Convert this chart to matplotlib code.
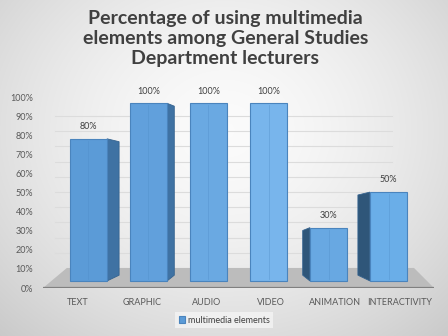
import numpy as np
import matplotlib
matplotlib.use('Agg')
import matplotlib.pyplot as plt
from matplotlib.patches import Polygon

plt.rcParams['font.family'] = ['Lato', 'DejaVu Sans']

categories = ['TEXT', 'GRAPHIC', 'AUDIO', 'VIDEO', 'ANIMATION', 'INTERACTIVITY']
values = [80, 100, 100, 100, 30, 50]
tick_values = [0, 10, 20, 30, 40, 50, 60, 70, 80, 90, 100]
series_name = 'multimedia elements'
title = 'Percentage of using multimedia\nelements among General Studies\nDepartment lecturers'

# fake 3d look (excel style perspective)
floor_base = 0.037
depth_scale = 0.93
bar_w = 0.62

fig = plt.figure(figsize=(4.48, 3.36), dpi=100)

# background gradient
bg = fig.add_axes([0, 0, 1, 1], zorder=-10)
yy, xx = np.mgrid[0:336, 0:448]
r = np.sqrt(((xx - 224) / 300.0) ** 2 + ((yy - 130) / 260.0) ** 2)
shade = np.clip(0.985 - 0.17 * r ** 1.6, 0.78, 1.0)
bg.imshow(np.dstack([shade, shade, shade]), aspect='auto', extent=[0, 1, 0, 1])
bg.axis('off')

ax = fig.add_axes([43 / 448, 48 / 336, 391 / 448, 191 / 336])
ax.patch.set_alpha(0)
ax.set_xlim(-0.758, 5.758)
ax.set_ylim(0, 1)

n = len(categories)
x = np.arange(n)

# back wall gridlines
for k in tick_values[1:]:
    gy = 0.105 + 0.0796 * k / 10
    ax.plot([-0.56, 5.06], [gy, gy], color='#dcdcdc', lw=0.8, zorder=1)

# floor
floor = Polygon([[-0.758, 0.0], [5.758, 0.0], [5.425, 0.105], [-0.36, 0.105]],
                closed=True, facecolor='#bcbcbc', edgecolor='none', zorder=2)
ax.add_patch(floor)

tops = [floor_base + v / 100 * depth_scale for v in values]
face_colors = ['#5b9bd7', '#61a0dc', '#6aa9e2', '#78b5ec', '#68a8e2', '#6aaee8']

for i in range(n):
    dx = -(i - 2.5) * 0.08
    left = x[i] - bar_w / 2
    right = x[i] + bar_w / 2
    t = tops[i]
    if abs(dx) > 0.05:
        edge = right if dx > 0 else left
        side_col = '#3f72a3' if dx > 0 else '#2f5679'
        side = Polygon([[edge, floor_base], [edge, t], [edge + dx, t - 0.015],
                        [edge + dx, floor_base + 0.03]],
                       closed=True, facecolor=side_col, edgecolor='#35638f',
                       lw=0.6, zorder=3)
        ax.add_patch(side)

ax.bar(x, [t - floor_base for t in tops], bottom=floor_base, width=bar_w,
       color=face_colors, edgecolor='#4a84bd', linewidth=0.8, zorder=4,
       label=series_name)

for i in range(n):
    ax.plot([x[i], x[i]], [floor_base + 0.01, tops[i] - 0.01], color='#4f8cc6',
            lw=0.5, alpha=0.5, zorder=5)
    ax.text(x[i], tops[i] + 0.04, '%d%%' % values[i], ha='center', va='bottom',
            fontsize=6.5, color='#404040', zorder=6)

# axis line
ax.axhline(0, color='#808080', lw=1.6, zorder=5)

for s in ax.spines.values():
    s.set_visible(False)

ax.set_yticks([v / 100 for v in tick_values])
ax.set_yticklabels(['%d%%' % v for v in tick_values], fontsize=6.5, color='#595959')
label_pos = [i + (i - 2.5) * 0.075 for i in range(n)]
ax.set_xticks(label_pos)
ax.set_xticklabels(categories, fontsize=6.5, color='#595959')
ax.tick_params(axis='both', length=0)
ax.tick_params(axis='y', pad=7)
ax.tick_params(axis='x', pad=7)

fig.text(0.503, 0.886, title, ha='center', va='center', fontsize=14,
         fontweight='bold', color='#404040', linespacing=1.22)

leg = fig.legend(loc='lower center', bbox_to_anchor=(0.5, 0.01), fontsize=6.5,
                 frameon=True, handlelength=0.7, handleheight=0.7,
                 handletextpad=0.3, borderpad=0.4, fancybox=False)
leg.get_frame().set_facecolor('#f4f4f4')
leg.get_frame().set_edgecolor('none')
for txt in leg.get_texts():
    txt.set_color('#404040')

fig.savefig('out.png', dpi=100)
